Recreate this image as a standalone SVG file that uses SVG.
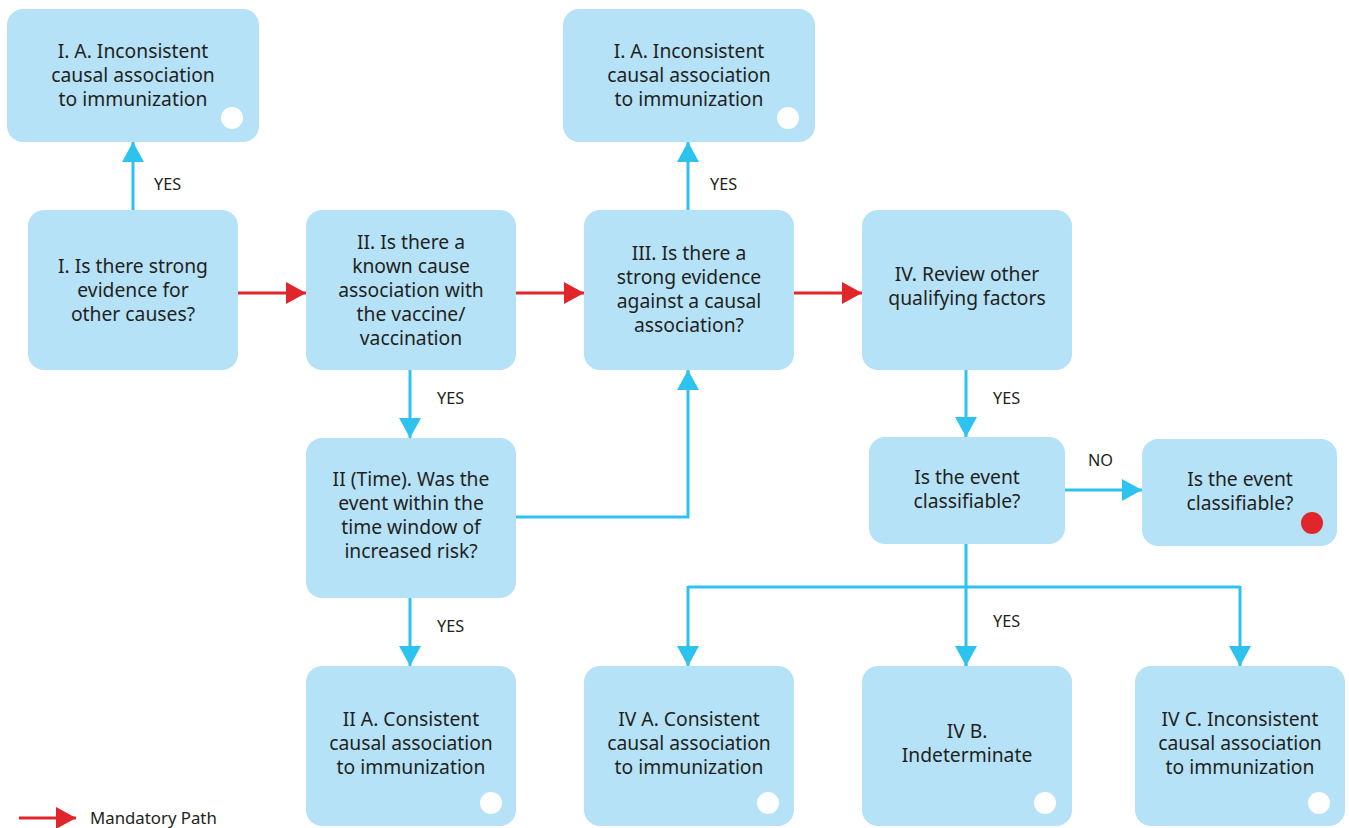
<svg xmlns="http://www.w3.org/2000/svg" width="1349" height="828" viewBox="0 0 1349 828">
  <style>
    .box { fill: #b6e2f7; }
    .t { font-family: "Noto Sans", "Open Sans", sans-serif; font-size: 19.3px; fill: #231f20; text-anchor: middle; }
    .lbl { font-family: "Noto Sans", "Open Sans", sans-serif; font-size: 16.3px; fill: #231f20; }
    .leg { font-family: "Noto Sans", "Open Sans", sans-serif; font-size: 16.8px; fill: #231f20; }
    .dot { fill: #ffffff; }
    .blue { fill: none; stroke: #2ec3ef; stroke-width: 3; }
    .red { fill: none; stroke: #e0252b; stroke-width: 3; }
  </style>
  <defs>
    <marker id="ab" viewBox="0 0 20 22" refX="20" refY="11" markerWidth="20" markerHeight="22" markerUnits="userSpaceOnUse" orient="auto">
      <path d="M0,0 L20,11 L0,22 Z" fill="#2ec3ef"/>
    </marker>
    <marker id="ar" viewBox="0 0 20 22" refX="20" refY="11" markerWidth="20" markerHeight="22" markerUnits="userSpaceOnUse" orient="auto">
      <path d="M0,0 L20,11 L0,22 Z" fill="#e0252b"/>
    </marker>
  </defs>

  <rect width="1349" height="828" fill="#ffffff"/>

  <g id="connectors">
    <path class="blue" d="M133,210 V142" marker-end="url(#ab)"/>
    <path class="blue" d="M688,210 V142" marker-end="url(#ab)"/>
    <path class="red" d="M238,293 H306" marker-end="url(#ar)"/>
    <path class="red" d="M516,293 H584" marker-end="url(#ar)"/>
    <path class="red" d="M794,293 H862" marker-end="url(#ar)"/>
    <path class="blue" d="M410,370 V438" marker-end="url(#ab)"/>
    <path class="blue" d="M516,517 H688 V370" marker-end="url(#ab)"/>
    <path class="blue" d="M410,598 V666" marker-end="url(#ab)"/>
    <path class="blue" d="M966,370 V437" marker-end="url(#ab)"/>
    <path class="blue" d="M1065,490 H1142" marker-end="url(#ab)"/>
    <path class="blue" d="M966,544 V670"/>
    <path class="blue" d="M966,664 V666" marker-end="url(#ab)"/>
    <path class="blue" d="M688,587 H1240"/>
    <path class="blue" d="M688,586 V666" marker-end="url(#ab)"/>
    <path class="blue" d="M1240,586 V666" marker-end="url(#ab)"/>
    <text class="lbl" x="154" y="190">YES</text>
    <text class="lbl" x="710" y="190">YES</text>
    <text class="lbl" x="437" y="404">YES</text>
    <text class="lbl" x="437" y="632">YES</text>
    <text class="lbl" x="993" y="404">YES</text>
    <text class="lbl" x="1088" y="466">NO</text>
    <text class="lbl" x="993" y="627">YES</text>
  </g>

  <g id="n-ia-left">
    <rect class="box" x="7" y="9" width="252" height="133" rx="16"/>
    <text class="t" x="133" y="58">I. A. Inconsistent</text>
    <text class="t" x="133" y="82">causal association</text>
    <text class="t" x="133" y="106">to immunization</text>
    <circle class="dot" cx="232" cy="118" r="11"/>
  </g>

  <g id="n-ia-right">
    <rect class="box" x="563" y="9" width="252" height="133" rx="16"/>
    <text class="t" x="689" y="58">I. A. Inconsistent</text>
    <text class="t" x="689" y="82">causal association</text>
    <text class="t" x="689" y="106">to immunization</text>
    <circle class="dot" cx="788" cy="118" r="11"/>
  </g>

  <g id="n-i">
    <rect class="box" x="28" y="210" width="210" height="160" rx="16"/>
    <text class="t" x="133" y="273">I. Is there strong</text>
    <text class="t" x="133" y="297">evidence for</text>
    <text class="t" x="133" y="321">other causes?</text>
  </g>

  <g id="n-ii">
    <rect class="box" x="306" y="210" width="210" height="160" rx="16"/>
    <text class="t" x="411" y="249">II. Is there a</text>
    <text class="t" x="411" y="273">known cause</text>
    <text class="t" x="411" y="297">association with</text>
    <text class="t" x="411" y="321">the vaccine/</text>
    <text class="t" x="411" y="345">vaccination</text>
  </g>

  <g id="n-iii">
    <rect class="box" x="584" y="210" width="210" height="160" rx="16"/>
    <text class="t" x="689" y="260">III. Is there a</text>
    <text class="t" x="689" y="284">strong evidence</text>
    <text class="t" x="689" y="308">against a causal</text>
    <text class="t" x="689" y="332">association?</text>
  </g>

  <g id="n-iv">
    <rect class="box" x="862" y="210" width="210" height="160" rx="16"/>
    <text class="t" x="967" y="281">IV. Review other</text>
    <text class="t" x="967" y="305">qualifying factors</text>
  </g>

  <g id="n-ii-time">
    <rect class="box" x="306" y="438" width="210" height="160" rx="16"/>
    <text class="t" x="411" y="486">II (Time). Was the</text>
    <text class="t" x="411" y="510">event within the</text>
    <text class="t" x="411" y="534">time window of</text>
    <text class="t" x="411" y="558">increased risk?</text>
  </g>

  <g id="n-classifiable">
    <rect class="box" x="869" y="437" width="196" height="107" rx="16"/>
    <text class="t" x="967" y="484">Is the event</text>
    <text class="t" x="967" y="508">classifiable?</text>
  </g>

  <g id="n-classifiable-no">
    <rect class="box" x="1142" y="439" width="195" height="107" rx="16"/>
    <text class="t" x="1240" y="486">Is the event</text>
    <text class="t" x="1240" y="510">classifiable?</text>
    <circle cx="1312" cy="523" r="11" fill="#e0252b"/>
  </g>

  <g id="n-iia">
    <rect class="box" x="306" y="666" width="210" height="160" rx="16"/>
    <text class="t" x="411" y="726">II A. Consistent</text>
    <text class="t" x="411" y="750">causal association</text>
    <text class="t" x="411" y="774">to immunization</text>
    <circle class="dot" cx="491" cy="803" r="11"/>
  </g>

  <g id="n-iva">
    <rect class="box" x="584" y="666" width="210" height="160" rx="16"/>
    <text class="t" x="689" y="726">IV A. Consistent</text>
    <text class="t" x="689" y="750">causal association</text>
    <text class="t" x="689" y="774">to immunization</text>
    <circle class="dot" cx="768" cy="803" r="11"/>
  </g>

  <g id="n-ivb">
    <rect class="box" x="862" y="666" width="210" height="160" rx="16"/>
    <text class="t" x="967" y="738">IV B.</text>
    <text class="t" x="967" y="762">Indeterminate</text>
    <circle class="dot" cx="1045" cy="803" r="11"/>
  </g>

  <g id="n-ivc">
    <rect class="box" x="1135" y="666" width="210" height="160" rx="16"/>
    <text class="t" x="1240" y="726">IV C. Inconsistent</text>
    <text class="t" x="1240" y="750">causal association</text>
    <text class="t" x="1240" y="774">to immunization</text>
    <circle class="dot" cx="1319" cy="803" r="11"/>
  </g>

  <g id="legend">
    <path class="red" d="M19,818 H76" marker-end="url(#ar)"/>
    <text class="leg" x="90" y="824">Mandatory Path</text>
  </g>
</svg>
